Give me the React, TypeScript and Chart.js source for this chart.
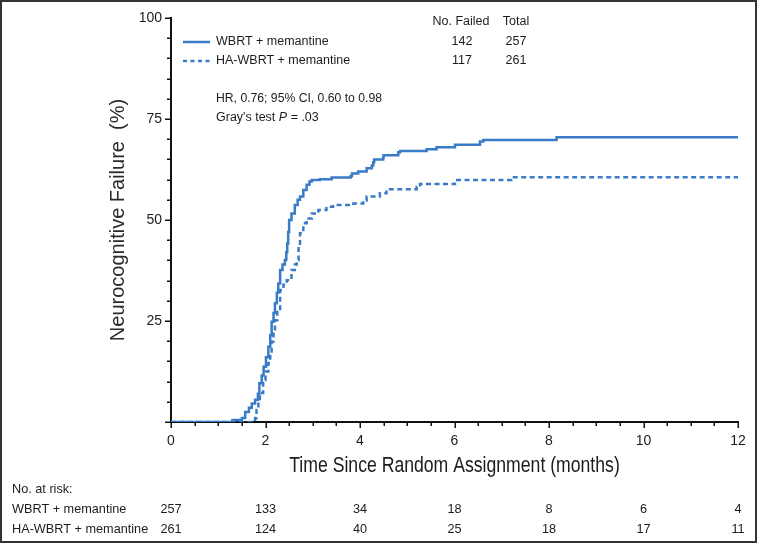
import React, { useEffect, useRef } from 'react';
import { Chart, registerables } from 'chart.js';

Chart.register(...registerables);

// ---- data ----
const seriesNames = ['WBRT + memantine', 'HA-WBRT + memantine'];
const noFailed = [142, 117];
const totals = [257, 261];

const wbrtMonths = [0, 1.3, 1.5, 1.57, 1.65, 1.71, 1.78, 1.84, 1.87, 1.92, 1.96, 2.01, 2.06, 2.1, 2.13, 2.17, 2.2, 2.24, 2.27, 2.31, 2.36, 2.41, 2.44, 2.46, 2.48, 2.5, 2.55, 2.62, 2.68, 2.73, 2.8, 2.87, 2.93, 2.98, 3.15, 3.4, 3.8, 3.83, 3.96, 4.14, 4.25, 4.28, 4.3, 4.49, 4.5, 4.81, 4.85, 5.41, 5.62, 6.01, 6.54, 6.61, 8.16, 12];
const wbrtPct = [0, 0.5, 1, 2.5, 3.5, 4.6, 5.5, 7, 9.6, 11.5, 13.7, 16, 18.6, 21.5, 24.8, 27, 29.4, 32, 34.3, 37.6, 39, 40.1, 42, 44.2, 47, 50, 51.6, 53.7, 55, 55.8, 57.4, 58.7, 59.5, 59.9, 60.1, 60.5, 60.8, 61.5, 62, 62.8, 63.5, 64.3, 65, 65.5, 66, 66.8, 67.1, 67.5, 68, 68.6, 69.4, 69.8, 70.5, 70.5];

const haMonths = [0, 1.78, 1.81, 1.85, 1.88, 1.95, 2.0, 2.06, 2.1, 2.13, 2.17, 2.2, 2.25, 2.31, 2.38, 2.45, 2.55, 2.62, 2.66, 2.7, 2.73, 2.8, 2.87, 2.98, 3.12, 3.29, 3.43, 3.86, 4.07, 4.14, 4.42, 4.56, 5.2, 5.27, 6.01, 7.2, 12];
const haPct = [0, 1, 3, 5, 7.2, 10.4, 12.5, 14.6, 17, 19.9, 22.5, 25.2, 28, 32.7, 34, 35.1, 37.6, 39, 40.1, 43, 46.7, 49.2, 50.4, 51.6, 52.5, 53.3, 53.7, 54.1, 54.8, 55.8, 56.6, 57.6, 58.2, 58.9, 59.9, 60.6, 60.6];

const xTickValues = [0, 2, 4, 6, 8, 10, 12];
const yTickValues = [25, 50, 75, 100];
const riskTimes = [0, 2, 4, 6, 8, 10, 12];
const riskWbrt = [257, 133, 34, 18, 8, 6, 4];
const riskHa = [261, 124, 40, 25, 18, 17, 11];

const hrText = 'HR, 0.76; 95% CI, 0.60 to 0.98';
const xTitle = 'Time Since Random Assignment (months)';
const yTitle = 'Neurocognitive Failure  (%)';

const BLUE = '#3a7bc8';
const INK = '#1c1c1c';
const FONT = "'Liberation Sans', Arial, Helvetica, sans-serif";
const DASH = [5, 3.5];

function drawText(
  ctx: CanvasRenderingContext2D,
  s: string,
  x: number,
  y: number,
  size: number,
  opts: { align?: 'left' | 'center' | 'right'; italic?: boolean; sx?: number; color?: string } = {}
) {
  ctx.save();
  ctx.font = `${opts.italic ? 'italic ' : ''}${size}px ${FONT}`;
  ctx.fillStyle = opts.color || INK;
  ctx.textBaseline = 'middle';
  ctx.textAlign = 'left';
  const sx = opts.sx || 1;
  const w = ctx.measureText(s).width * sx;
  let left = x;
  if (opts.align === 'center') left = x - w / 2;
  else if (opts.align === 'right') left = x - w;
  ctx.translate(left, y);
  ctx.scale(sx, 1);
  ctx.fillText(s, 0, 0);
  ctx.restore();
  return w;
}

const decorPlugin = {
  id: 'decor',
  afterDraw(chart: any) {
    const ctx: CanvasRenderingContext2D = chart.ctx;
    const xs = chart.scales.x;
    const ys = chart.scales.y;
    const area = chart.chartArea;

    ctx.save();
    // frame
    ctx.strokeStyle = '#333';
    ctx.lineWidth = 2;
    ctx.strokeRect(1, 1, 755, 541);

    // ticks
    ctx.strokeStyle = '#111';
    ctx.lineWidth = 1.5;
    for (let v = 0; v <= 12; v += 0.5) {
      const px = Math.round(xs.getPixelForValue(v)) + 0.25;
      const len = v % 2 === 0 ? 6 : 4;
      ctx.beginPath();
      ctx.moveTo(px, area.bottom);
      ctx.lineTo(px, area.bottom + len);
      ctx.stroke();
    }
    for (let v = 0; v <= 100; v += 5) {
      const py = Math.round(ys.getPixelForValue(v)) + 0.25;
      const len = v % 25 === 0 ? 6 : 4;
      ctx.beginPath();
      ctx.moveTo(area.left, py);
      ctx.lineTo(area.left - len, py);
      ctx.stroke();
    }

    // legend
    const legX0 = 183;
    const legX1 = 210;
    const rowY = [42, 61];
    ctx.strokeStyle = BLUE;
    ctx.lineWidth = 2.5;
    rowY.forEach((y, i) => {
      ctx.setLineDash(i === 0 ? [] : [4, 3.5]);
      ctx.beginPath();
      ctx.moveTo(legX0, y);
      ctx.lineTo(legX1, y);
      ctx.stroke();
      drawText(ctx, seriesNames[i], 216, y, 12.5);
      drawText(ctx, String(noFailed[i]), 462, y, 12.5, { align: 'center' });
      drawText(ctx, String(totals[i]), 516, y, 12.5, { align: 'center' });
    });
    ctx.setLineDash([]);
    drawText(ctx, 'No. Failed', 461, 22, 12.5, { align: 'center' });
    drawText(ctx, 'Total', 516, 22, 12.5, { align: 'center' });

    drawText(ctx, hrText, 216, 99, 12.2);
    let gx = 216;
    gx += drawText(ctx, "Gray's test ", gx, 118, 12.5);
    gx += drawText(ctx, 'P', gx, 118, 12.5, { italic: true });
    drawText(ctx, ' = .03', gx, 118, 12.5);

    // axis titles
    drawText(ctx, xTitle, (area.left + area.right) / 2, 466, 21.5, { align: 'center', sx: 0.82 });
    ctx.save();
    ctx.translate(118, (area.top + area.bottom) / 2);
    ctx.rotate(-Math.PI / 2);
    drawText(ctx, yTitle, 0, 0, 20, { align: 'center', color: '#2a2a2a' });
    ctx.restore();

    // at-risk table
    drawText(ctx, 'No. at risk:', 12, 489, 13.5, { sx: 0.94 });
    const tableRows = [riskWbrt, riskHa];
    const tableY = [509, 529];
    tableRows.forEach((row, r) => {
      drawText(ctx, seriesNames[r], 12, tableY[r], 13.5, { sx: 0.94 });
      row.forEach((n, i) => {
        drawText(ctx, String(n), xs.getPixelForValue(riskTimes[i]), tableY[r], 13.5, { align: 'center', sx: 0.94 });
      });
    });
    ctx.restore();
  },
};

export default function App() {
  const ref = useRef<HTMLCanvasElement>(null);
  useEffect(() => {
    document.body.style.margin = '0';
    const canvas = ref.current!;
    const chart = new Chart(canvas, {
      type: 'line',
      data: {
        datasets: [
          {
            label: seriesNames[0],
            data: wbrtMonths.map((x, i) => ({ x, y: wbrtPct[i] })),
            stepped: 'before',
            borderColor: BLUE,
            borderWidth: 2.5,
            pointRadius: 0,
            fill: false,
          },
          {
            label: seriesNames[1],
            data: haMonths.map((x, i) => ({ x, y: haPct[i] })),
            stepped: 'before',
            borderColor: BLUE,
            borderWidth: 2.5,
            borderDash: DASH,
            pointRadius: 0,
            fill: false,
          },
        ],
      },
      options: {
        animation: false,
        responsive: false,
        maintainAspectRatio: false,
        devicePixelRatio: 1,
        layout: { padding: { left: 0, top: 18, right: 20, bottom: 0 } },
        plugins: { legend: { display: false }, tooltip: { enabled: false } },
        scales: {
          x: {
            type: 'linear',
            min: 0,
            max: 12,
            border: { display: true, color: '#111', width: 2 },
            grid: { display: true, drawOnChartArea: false, drawTicks: true, tickLength: 6, color: 'rgba(0,0,0,0)' },
            afterBuildTicks: (s: any) => {
              s.ticks = xTickValues.map((v) => ({ value: v }));
            },
            ticks: {
              autoSkip: false,
              maxRotation: 0,
              padding: 5,
              color: INK,
              font: { family: FONT, size: 14 },
            },
            afterFit: (s: any) => {
              s.height = 122;
            },
          },
          y: {
            type: 'linear',
            min: 0,
            max: 100,
            border: { display: true, color: '#111', width: 2 },
            grid: { display: true, drawOnChartArea: false, drawTicks: true, tickLength: 6, color: 'rgba(0,0,0,0)' },
            afterBuildTicks: (s: any) => {
              s.ticks = yTickValues.map((v) => ({ value: v }));
            },
            ticks: {
              autoSkip: false,
              padding: 3,
              color: INK,
              font: { family: FONT, size: 14 },
            },
            afterFit: (s: any) => {
              s.width = 171;
            },
          },
        },
      },
      plugins: [decorPlugin],
    });
    return () => chart.destroy();
  }, []);
  return <canvas ref={ref} width={758} height={544} style={{ display: 'block', width: 758, height: 544 }} />;
}
